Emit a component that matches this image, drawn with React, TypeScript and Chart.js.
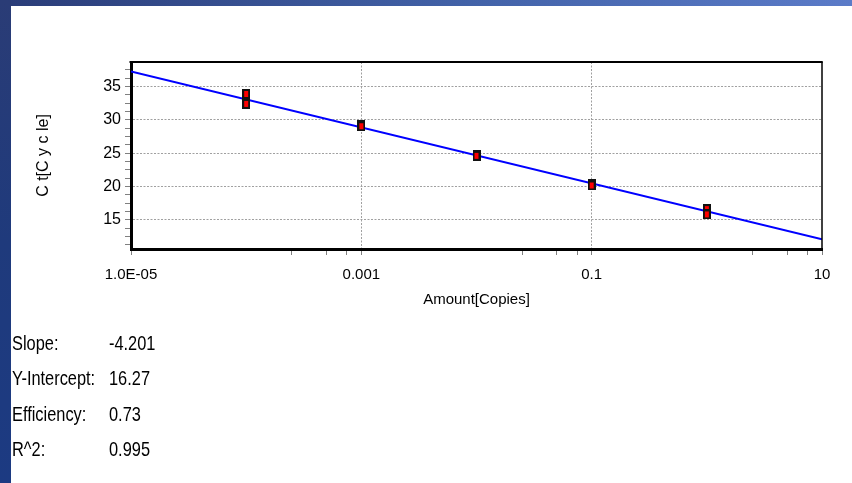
import React, { useEffect, useRef } from 'react';
import { Chart, registerables } from 'chart.js';

Chart.register(...registerables);

// ---- data ----
const amounts = [1e-4, 1e-4, 1e-3, 1e-3, 1e-2, 1e-2, 1e-1, 1e-1, 1, 1];
const ctValues = [33.9, 32.4, 29.2, 29.05, 24.8, 24.6, 20.4, 20.15, 16.6, 15.8];
const fitAmounts = [1e-5, 10];
const fitCt = [37.28, 12.07];

const xMajorTicks = [1e-5, 1e-3, 0.1, 10];
const xMajorLabels = ['1.0E-05', '0.001', '0.1', '10'];
const xMinorTicks = [2.5e-4, 5e-4, 7.5e-4, 2.5e-2, 5e-2, 7.5e-2, 2.5, 5, 7.5];
const xGridValues = [1e-3, 0.1];
const xMin = 1e-5;
const xMax = 10;

const yTicks = [
  11.25, 12.5, 13.75, 15, 16.25, 17.5, 18.75, 20, 21.25, 22.5, 23.75, 25,
  26.25, 27.5, 28.75, 30, 31.25, 32.5, 33.75, 35, 36.25, 37.5,
];
const yLabelTicks = [15, 20, 25, 30, 35];
const yMin = 10.6;
const yMax = 38.7;

const xTitle = 'Amount[Copies]';
const yTitle = 'C t[C y c le]';

const statLabels = ['Slope:', 'Y-Intercept:', 'Efficiency:', 'R^2:'];
const statValues = ['-4.201', '16.27', '0.73', '0.995'];

const FONT = "'Liberation Sans', Arial, Helvetica, sans-serif";

function makeMarker(): HTMLCanvasElement {
  const c = document.createElement('canvas');
  c.width = 8;
  c.height = 10;
  const g = c.getContext('2d')!;
  g.fillStyle = '#111111';
  g.fillRect(0, 0, 8, 10);
  g.fillStyle = '#ff0000';
  g.fillRect(2, 2, 4, 6);
  return c;
}

const framePlugin = {
  id: 'frameTopRight',
  afterDraw(chart: any) {
    const { ctx, chartArea: a } = chart;
    ctx.save();
    ctx.strokeStyle = '#000000';
    ctx.lineWidth = 2;
    ctx.beginPath();
    ctx.moveTo(a.left - 1.5, a.top);
    ctx.lineTo(a.right + 0.75, a.top);
    ctx.stroke();
    ctx.lineWidth = 1.5;
    ctx.beginPath();
    ctx.moveTo(a.right, a.top);
    ctx.lineTo(a.right, a.bottom);
    ctx.stroke();
    ctx.restore();
  },
};

export default function App() {
  const ref = useRef<HTMLCanvasElement | null>(null);

  useEffect(() => {
    if (!ref.current) return;
    const marker = makeMarker();
    const chart = new Chart(ref.current, {
      type: 'scatter',
      data: {
        datasets: [
          {
            data: amounts.map((a, i) => ({ x: a, y: ctValues[i] })),
            pointStyle: marker as any,
            pointRadius: 5,
            order: 0,
          },
          {
            data: fitAmounts.map((a, i) => ({ x: a, y: fitCt[i] })),
            showLine: true,
            borderColor: '#0000ff',
            borderWidth: 2,
            pointRadius: 0,
            order: 1,
          },
        ],
      },
      options: {
        responsive: false,
        animation: false,
        events: [],
        layout: { padding: { left: 34, top: 62, right: 30, bottom: 174 } },
        plugins: { legend: { display: false }, tooltip: { enabled: false } },
        font: { family: FONT },
        scales: {
          x: {
            type: 'logarithmic',
            min: xMin,
            max: xMax,
            afterBuildTicks: (scale: any) => {
              scale.ticks = [...xMajorTicks, ...xMinorTicks]
                .sort((a, b) => a - b)
                .map((v) => ({ value: v }));
            },
            afterFit: (scale: any) => {
              scale.height = 60;
            },
            grid: {
              color: (ctx: any) =>
                ctx.tick && xGridValues.includes(ctx.tick.value) ? '#a0a0a0' : 'rgba(0,0,0,0)',
              lineWidth: 1,
              tickColor: '#808080',
              tickLength: 6,
              tickWidth: 1,
            },
            border: { display: true, color: '#000000', width: 3, dash: [2, 1.5] },
            ticks: {
              autoSkip: false,
              maxRotation: 0,
              padding: 11,
              color: '#000000',
              font: { family: FONT, size: 15 },
              callback: (value: any) => {
                const i = xMajorTicks.indexOf(Number(value));
                return i >= 0 ? xMajorLabels[i] : '';
              },
            },
            title: {
              display: true,
              text: xTitle,
              color: '#000000',
              padding: { top: 0, bottom: 0 },
              font: { family: FONT, size: 15 },
            },
          },
          y: {
            type: 'linear',
            min: yMin,
            max: yMax,
            afterBuildTicks: (scale: any) => {
              scale.ticks = yTicks.map((v) => ({ value: v }));
            },
            afterFit: (scale: any) => {
              scale.width = 97;
            },
            grid: {
              color: (ctx: any) =>
                ctx.tick && yLabelTicks.includes(ctx.tick.value) ? '#a0a0a0' : 'rgba(0,0,0,0)',
              lineWidth: 1,
              tickColor: '#808080',
              tickLength: 6,
              tickWidth: 1,
            },
            border: { display: true, color: '#000000', width: 3, dash: [2, 1.5] },
            ticks: {
              autoSkip: false,
              padding: 4,
              color: '#000000',
              font: { family: FONT, size: 16 },
              callback: (value: any) =>
                yLabelTicks.includes(Number(value)) ? String(value) : '',
            },
            title: {
              display: true,
              text: yTitle,
              color: '#000000',
              padding: { top: 0, bottom: 0 },
              font: { family: FONT, size: 16 },
            },
          },
        },
      } as any,
      plugins: [framePlugin],
    });
    return () => chart.destroy();
  }, []);

  return (
    <div
      style={{
        position: 'fixed',
        left: 0,
        top: 0,
        width: 852,
        height: 483,
        background: '#ffffff',
        overflow: 'hidden',
      }}
    >
      <div
        style={{
          position: 'absolute',
          left: 0,
          top: 0,
          width: 852,
          height: 6,
          background: 'linear-gradient(to right, #2a3c78, #4262a8 55%, #5b7bc8)',
        }}
      />
      <div
        style={{
          position: 'absolute',
          left: 0,
          top: 0,
          width: 11,
          height: 483,
          background: 'linear-gradient(to bottom, #2a3c76, #1f3a7c 50%, #1c3a82)',
        }}
      />
      <canvas
        ref={ref}
        width={852}
        height={483}
        style={{ position: 'absolute', left: 0, top: 0, width: 852, height: 483 }}
      />
      {statLabels.map((label, i) => (
        <React.Fragment key={label}>
          <div
            style={{
              position: 'absolute',
              left: 12,
              top: 332 + i * 35.3,
              fontFamily: FONT,
              fontSize: 21,
              lineHeight: '21px',
              color: '#000000',
              whiteSpace: 'nowrap',
              transform: 'scaleX(0.78)',
              transformOrigin: 'left top',
            }}
          >
            {label}
          </div>
          <div
            style={{
              position: 'absolute',
              left: 109,
              top: 332 + i * 35.3,
              fontFamily: FONT,
              fontSize: 21,
              lineHeight: '21px',
              color: '#000000',
              whiteSpace: 'nowrap',
              transform: 'scaleX(0.78)',
              transformOrigin: 'left top',
            }}
          >
            {statValues[i]}
          </div>
        </React.Fragment>
      ))}
    </div>
  );
}
